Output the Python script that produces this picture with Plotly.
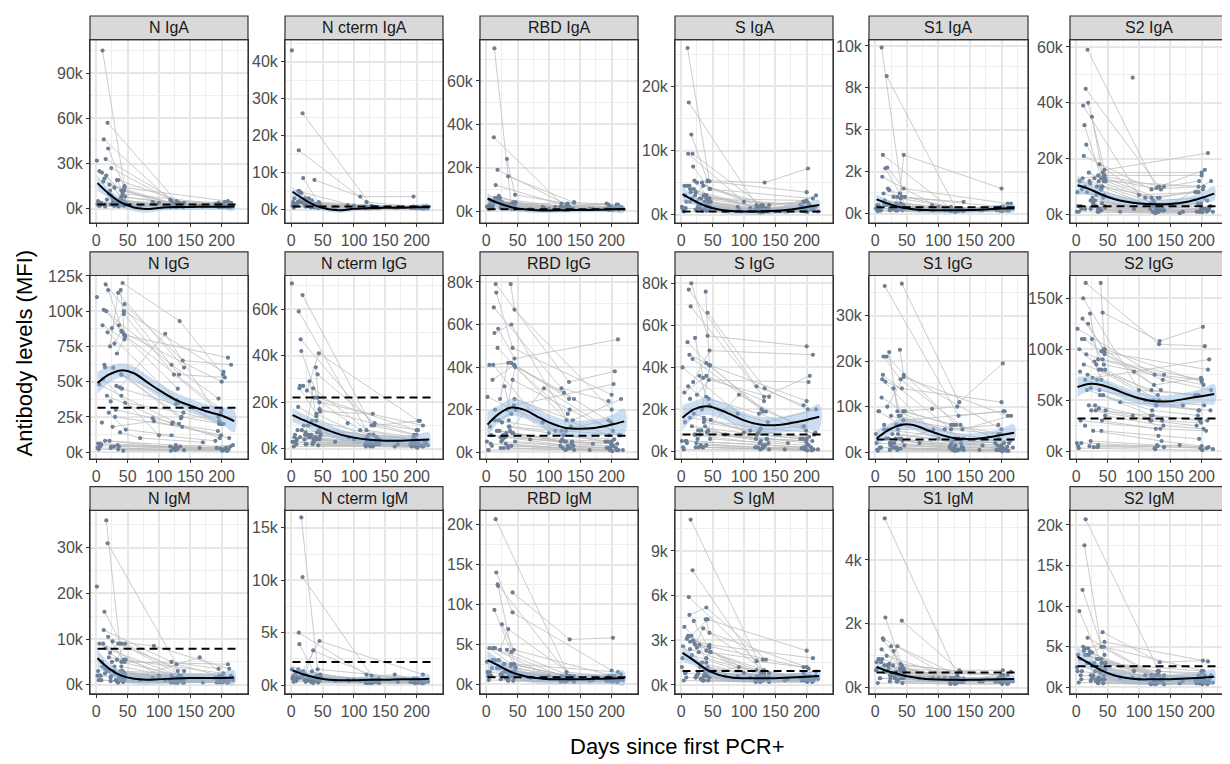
import plotly.graph_objects as go

PANELS = ["N IgA", "N cterm IgA", "RBD IgA", "S IgA", "S1 IgA", "S2 IgA",
          "N IgG", "N cterm IgG", "RBD IgG", "S IgG", "S1 IgG", "S2 IgG",
          "N IgM", "N cterm IgM", "RBD IgM", "S IgM", "S1 IgM", "S2 IgM"]

# visit days per subject (shared across antigens)
SUBJECT_DAYS = [[2,125,200],[5,40,132],[8,130,198],[10,45],[12,120,195],[13,40,135],[15,132,205],[16,42,200],[18,128,196],[19,45,210],
 [21,125],[22,35,140],[24,118,192],[25,44,203],[27,136,200],[29,40],[31,122,197],[33,46,130],[35,140,208],[37,110,195],
 [39,45,200],[41,127],[42,133,202],[44,124,199],[45,138,215],[11,100,190],[20,47,120],[26,92,212],[34,165,218],[38,70,170],
 [1],[3],[6],[9],[14],[23],[28],[32],[36],[90],
 [4,126,201],[7,134,207],[17,121,194],[23,129,211],[30,137,199],[36,123,204],[40,131,196],[43,119,209],[46,139,203],[14,127,214]]

# antibody levels (MFI, thousands) per subject and visit
N_IGA = [[3,1.5,2],[25,12,3],[4,2,1.5],[105,15],[46,5,4],[20,8,3],[33,4,4.5],[22,10,3],[57,5,3],[40,14,5],
 [16,3],[12,19,4],[27,6,2],[8,5,2.5],[5,2,1.5],[14,6],[3,1.5,1],[19,8,3],[2,1.5,1],[6,2,3],
 [4,3,2],[2.5,1.5],[3,2,1.5],[12,3,2.5],[2,1,4],[18,4,3],[10,4,2],[7,3,2],[4,2,1.5],[3,2,1.5],
 [32],[5],[2],[24],[3],[9],[2],[4],[1.5],[4.5],
 [2,1,1],[4,1.5,2],[6,2,1.5],[3,1,1],[2,1.5,2.5],[5,2,1.5],[3,2,1],[2,1,1.5],[4,3,2],[1.5,1,1]]
N_CTERM_IGA = [[1,0.5,0.5],[3,1.5,0.5],[1.5,0.5,0.4],[2,1],[16,2,0.8],[5,1.5,0.5],[2,0.6,0.5],[4.5,1.2,0.6],[26,1,0.6],[8.5,1.5,0.7],
 [1.5,0.5],[3,1.2,0.5],[2,0.6,0.4],[1.2,2,0.5],[1,0.5,0.5],[0.8,0.6],[1.5,0.5,0.4],[2.5,1,0.5],[0.8,0.4,0.4],[8,3.5,3.5],
 [1.2,0.8,0.5],[1,0.5],[1.5,0.5,0.6],[0.8,0.4,0.4],[0.6,0.4,0.8],[5,1,0.5],[2,1,0.5],[1,0.5,0.4],[0.8,0.5,0.4],[1.5,0.6,0.5],
 [43],[2],[1],[1.5],[4.5],[1],[3],[0.6],[0.8],[1.2],
 [0.5,0.3,0.3],[1,0.5,0.4],[2,0.6,0.5],[0.8,0.4,0.3],[1.2,0.5,0.6],[0.6,0.4,0.4],[1.5,0.8,0.5],[0.4,0.3,0.3],[0.9,0.6,0.5],[2.5,0.5,0.4]]
RBD_IGA = [[2,1,1],[3,1.5,1],[4,1,1],[1.5,1],[34,3.5,3],[75,2,1],[12,2,1.5],[6,3,1],[19,3,2],[5,2,3],
 [4,1.5],[6,3,4],[3,2,3.5],[4,2,1.5],[2,1,1],[3,2],[2,1,1],[24,7.5,3.5],[16,4,3],[3,2,1.5],
 [3,2.5,2],[2,1.5],[2,1,1],[4,1.5,1],[1.5,1,2],[3,1,1],[7,4,2],[2,1.5,1],[1.5,1,1],[2,1,1],
 [2],[1.5],[5],[3],[6],[4],[2],[3],[1.5],[2],
 [1,0.5,0.5],[2,1,1],[5,1.5,1],[1.5,0.8,0.6],[3,1,1.2],[2.5,1.2,0.8],[1,0.6,0.5],[4,1,1],[1.5,1,0.8],[6,2,1.5]]
S_IGA = [[1,0.5,0.6],[4.5,2.5,1],[2,0.7,1],[26,5.2],[17.5,1.5,2],[4.5,3,1],[3.5,1,1.5],[12.5,5.2,3.5],[9.5,1.5,2],[7.5,4,2.5],
 [5.3,1.2],[3,4.5,1.5],[2,0.8,0.6],[5,2.5,1.5],[1.5,0.6,0.8],[2.5,1.5],[1,0.5,0.7],[5,4,1.5],[0.8,0.5,1],[2,1,2],
 [3,2.5,2.2],[1.5,0.8],[5.3,5,7.2],[1.2,0.6,1],[0.8,0.5,3],[9.5,2,1.5],[4,2,1],[1,0.8,0.6],[0.6,0.5,0.5],[1,0.6,0.5],
 [1.2],[0.8],[3],[4.5],[2],[3.5],[1],[2.5],[0.8],[1.2],
 [0.5,0.3,0.4],[1,0.6,0.8],[2.5,0.8,1.2],[0.8,0.5,0.6],[1.5,0.7,2],[3,1,1.5],[0.6,0.4,0.5],[2,0.8,1],[1.2,0.9,1.8],[4,1,1.2]]
S1_IGA = [[0.3,0.2,0.2],[0.5,0.3,0.2],[0.2,0.15,0.2],[9.9,0.5],[3.5,0.3,0.3],[1.2,0.9,0.3],[0.8,0.2,0.3],[2.7,1.0,0.4],[8.2,0.3,0.2],[2.75,1.5,0.6],
 [0.6,0.2],[1.4,1.0,0.7],[0.5,0.2,0.2],[0.4,0.3,0.3],[0.3,0.2,0.2],[1.0,0.6],[0.3,0.2,0.2],[0.6,0.4,0.3],[0.2,0.15,0.2],[0.4,0.2,0.3],
 [1.2,3.5,1.5],[0.3,0.2],[0.4,0.2,0.3],[0.4,0.2,0.3],[0.3,0.2,0.6],[2.2,0.4,0.3],[1.5,1.0,0.4],[0.3,0.2,0.2],[0.2,0.2,0.3],[0.3,0.2,0.2],
 [0.3],[0.5],[0.4],[0.2],[0.6],[0.3],[0.4],[0.2],[0.3],[0.5],
 [0.15,0.1,0.15],[0.3,0.2,0.2],[0.5,0.25,0.3],[0.2,0.15,0.2],[0.4,0.2,0.3],[0.25,0.2,0.25],[0.6,0.3,0.35],[0.2,0.15,0.2],[0.35,0.25,0.4],[0.7,0.3,0.3]]
S2_IGA = [[8,3,2],[12,10,2],[2,1,1.5],[13,14],[21,9,10],[32,13,9],[45,10,16],[25,15,15],[59,9.5,12],[40,16,22],
 [12,4],[11,14,10],[5,2,1],[35,12,10],[4,1.5,2],[13,9],[3,1,1],[10,13,6],[2,1.5,1],[18,6,8],
 [9,14,14],[4,2],[10,6,9],[7,3,4],[3,2,12],[39,7,8],[15,12,6],[6,2,2],[1,0.5,1],[2,1,1],
 [1],[3],[12],[9],[2],[5],[3],[7],[1],[49],
 [1,0.5,0.8],[3,1.5,2],[8,3,4],[2,1,1.5],[5,2,3],[12,5,6],[1.5,1,1],[6,4,5],[2.5,1.5,2],[10,3,3]]
N_IGG = [[3,2,2],[48,40,20],[5,3,2.5],[90,80],[101,62,38],[62,55,24],[119,55,53],[100,85,50],[85,37,20],[115,83,67],
 [8,3],[75,113,60],[4,4,3],[88,100,57],[60,25,20],[77,86],[30,21,10],[70,82,45],[2,1.5,1],[46,84,25],
 [115,83,30],[45,34],[120,93,55],[98,55,28],[105,65,62],[52,12,8],[28,16,12],[18,22,10],[5,3,5],[14,10,7],
 [110],[6],[4],[21],[60],[36],[4],[47],[90],[24],
 [2,1.5,1],[6,4,3],[40,20,15],[3,2,2],[25,18,12],[4,3,2],[55,35,22],[1,1,1],[35,28,20],[8,5,4]]
N_CTERM_IGG = [[3,1.5,1],[5,4,2],[2,1,1],[8,5],[59,8,5],[26,15,3],[47,10,12],[42,22,8],[66,10,6],[27,20,10],
 [4,2],[6,26,4],[2,2,1],[25,41,12],[10,5,3],[29,14],[5,3,2],[12,16,15],[3,2,1.5],[22,8,4],
 [35,17,6],[7,3],[32,11,8],[8,6,4],[4,3,3],[18,4,2],[10,6,3],[6,5,3],[2,1,1.5],[5,3,2],
 [71],[3],[6],[4],[27],[7],[5],[6],[3],[11],
 [1,1,0.5],[3,2,1.5],[8,5,3],[2,1.5,1],[6,3,2],[4,2,1.5],[12,6,4],[1.5,1,1],[7,4,3],[5,3,2]]
RBD_IGG = [[26,8,5],[41,42,25],[8,3,2],[34,41],[68,30,24],[56,60,12],[79,33,38],[75,49,27],[49,15,8],[58,44,53],
 [10,5],[25,42,25],[5,3,2],[14,22,32],[8,4,3],[31,18],[4,2,1],[20,40,18],[2,1,1],[12,10,15],
 [79,67,20],[9,5],[34,20,10],[41,28,14],[25,15,25],[41,9,5],[15,20,10],[6,30,8],[3,1,1],[10,6,4],
 [5],[1],[12],[3],[20],[7],[2],[9],[15],[14],
 [1,1,0.5],[4,2,2],[10,6,5],[2,1.5,1],[7,5,4],[12,8,6],[3,2,2],[9,5,4],[5,3,3],[15,10,8]]
S_IGG = [[40,10,6],[28,36,24],[5,3,2],[52,41],[77,31,22],[46,42,19],[69,26,36],[80,55,50],[44,20,12],[33,48,46],
 [8,4],[54,35,26],[4,2,1.5],[27,34,33],[10,6,4],[36,26],[3,2,1],[20,41,19],[2,1,0.5],[15,10,12],
 [76,41,24],[9,5],[66,30,20],[25,18,10],[22,14,20],[31,9,6],[18,15,8],[6,27,8],[2,1,1],[12,8,4],
 [5],[2],[14],[4],[25],[8],[2],[10],[16],[18],
 [1,1,0.5],[5,3,2],[12,8,6],[2,1.5,1],[8,6,5],[14,9,7],[3,2,2],[10,6,5],[6,4,3],[16,11,9]]
S1_IGG = [[2,1,1],[9,6,3],[1,0.5,0.5],[12,9],[17,5,4],[21,16,6],[36.5,8,9],[15.5,14,11],[21,6,3],[10,16.5,8],
 [3,1],[22,9,3],[1.5,1,0.5],[8,7,9],[4,2,1.5],[14,8],[1,0.5,0.5],[6,9,10],[0.5,0.5,0.3],[8,5,6],
 [22.5,17,5],[3,1.5],[37,11,19.5],[9,6,4],[7,5,8],[16,3,2],[5,9,6],[2,5,2],[1,0.5,1],[3,2,1.5],
 [4],[0.5],[9],[1],[6],[2],[1],[3],[5],[9.5],
 [0.3,0.3,0.2],[1,0.6,0.5],[3,2,1.5],[0.5,0.4,0.3],[2,1.2,1],[4,2.5,2],[0.8,0.5,0.5],[2.5,1.5,1.2],[1.5,1,0.8],[5,3,2.5]]
S2_IGG = [[120,75,70],[100,80,50],[8,5,3],[130,100],[85,60,55],[110,98,60],[165,105,103],[95,90,70],[75,45,40],[125,97,80],
 [5,3],[135,90,75],[40,30,25],[110,85,65],[20,10,5],[88,70],[40,35,30],[70,80,55],[6,4,3],[60,50,40],
 [165,100,68],[30,22],[136,108,122],[100,65,72],[95,70,60],[150,60,55],[45,40,30],[72,78,90],[4,6,2],[55,48,45],
 [8],[5],[78],[110],[25],[62],[4],[85],[42],[35],
 [3,2,1],[30,22,20],[60,40,35],[10,6,4],[45,30,28],[80,50,45],[20,15,12],[55,35,30],[35,25,22],[70,45,40]]
N_IGM = [[2,1,1],[9,5,2],[1,0.5,1],[4,1.5],[12,5,3.5],[16,9,2],[8,2,1.5],[36,3,2],[31,4.5,2],[10.5,5,4.5],
 [3,1],[7,9,3],[2,1,0.5],[5,5.5,2.5],[3,1.5,1],[4,2],[1,0.5,0.5],[5.5,9,3],[0.5,0.5,0.5],[2,1,1.5],
 [3,2.5,2],[1,0.5],[1.5,1,1],[2.5,1.5,1],[1,0.5,2],[9,2,1.5],[6,5.5,2],[9.5,8.5,3.5],[0.5,6,1],[1.5,1,0.5],
 [21.5],[3],[2],[5],[2.5],[1.5],[3],[1],[2],[1.5],
 [1,0.5,0.5],[2,1,1],[3,1.5,1],[0.8,0.5,0.6],[2.5,1.2,1.5],[1.5,1,0.8],[4,1.5,1.2],[0.6,0.5,0.5],[2,1.2,1],[3.5,1.5,1.2]]
N_CTERM_IGM = [[0.6,0.3,0.3],[1,0.6,0.4],[0.4,0.3,0.3],[0.8,0.5],[5,1,0.6],[3.9,0.8,0.5],[1.2,0.4,0.5],[16,1.5,0.6],[10.3,0.9,0.5],[1.3,4.2,1],
 [0.5,0.3],[1,3.3,0.6],[0.4,0.3,0.3],[0.9,0.8,0.5],[0.5,0.3,0.3],[0.7,0.5],[0.3,0.2,0.2],[1.3,1,0.5],[0.2,0.2,0.2],[0.6,0.4,0.4],
 [0.8,0.6,0.5],[0.4,0.3],[0.5,0.3,0.3],[0.6,0.4,0.3],[0.4,0.3,0.5],[1.5,0.5,0.3],[1,0.8,0.4],[0.5,0.4,0.3],[0.3,1,0.3],[0.6,0.4,0.3],
 [1.5],[0.8],[1],[0.6],[1.2],[0.5],[0.7],[0.4],[0.6],[0.5],
 [0.3,0.2,0.2],[0.5,0.3,0.3],[0.8,0.4,0.4],[0.3,0.2,0.2],[0.6,0.4,0.4],[0.4,0.3,0.3],[0.9,0.5,0.4],[0.25,0.2,0.2],[0.5,0.4,0.3],[0.7,0.4,0.3]]
RBD_IGM = [[1.5,0.5,0.5],[4.5,2.5,1],[1,0.5,0.5],[3,1.5],[4.5,1,0.8],[9.3,4,1],[20.7,1,1],[14,9,1.7],[12.5,1.5,1],[12.3,2.5,1.5],
 [2,0.6],[4.3,6.9,1],[1,0.5,0.4],[7.5,4.3,1],[1.5,0.6,0.5],[2.5,1.5],[0.8,0.4,0.4],[4.3,2,1],[0.4,0.3,0.3],[1.5,0.8,1],
 [2.2,1.5,1],[1,0.5],[11.5,5.6,5.8],[1.5,0.8,0.6],[0.8,0.5,1.2],[4.5,1,0.6],[3,2,0.8],[1,0.8,0.5],[0.5,0.4,0.5],[1.5,0.8,0.5],
 [2.8],[1],[1.5],[2],[4.5],[1.2],[2.5],[1.5],[1],[0.8],
 [0.5,0.3,0.3],[1,0.6,0.5],[2,0.8,0.6],[0.6,0.4,0.4],[1.5,0.7,0.6],[0.8,0.5,0.5],[2.5,1,0.8],[0.4,0.3,0.3],[1.2,0.7,0.6],[3,1,0.7]]
S_IGM = [[1.8,0.5,0.4],[3.9,2.3,1],[0.5,0.3,0.3],[3.2,2.5],[5.9,1.6,1.2],[4.7,5.2,1.7],[11.1,0.8,0.6],[3.3,4.4,2.3],[7.7,0.9,0.6],[3,2.7,1.8],
 [2.8,0.6],[2.7,3.8,0.8],[0.6,0.3,0.3],[2.5,2.6,1.1],[0.8,0.4,0.4],[2.7,1.5],[0.4,0.3,0.3],[1.5,2.2,1.7],[0.3,0.2,0.3],[1,0.5,0.8],
 [4.4,3.5,1.2],[0.6,0.4],[1.2,0.6,0.5],[0.9,0.5,0.4],[0.5,0.4,0.9],[3.3,0.8,0.5],[4.3,2.2,1],[0.7,1.2,0.4],[0.3,0.3,0.4],[0.8,0.6,0.4],
 [1.2],[2.6],[0.8],[3.1],[2.9],[0.5],[2.2],[0.4],[0.3],[0.6],
 [0.3,0.2,0.2],[0.8,0.4,0.4],[2,0.6,0.5],[0.5,0.3,0.3],[1.2,0.5,0.6],[0.6,0.4,0.4],[1.8,0.7,0.6],[0.3,0.2,0.2],[0.9,0.5,0.5],[2.4,0.8,0.6]]
S1_IGM = [[0.8,0.3,0.3],[0.9,0.5,0.3],[0.3,0.2,0.2],[1.2,0.6],[1.55,0.3,0.3],[1.5,0.75,0.5],[5.3,0.3,0.3],[2.2,0.7,0.4],[1,0.3,0.2],[0.7,0.5,0.4],
 [0.6,0.2],[0.75,1.3,0.3],[0.3,0.2,0.2],[1.3,0.6,0.4],[0.4,0.2,0.2],[1.15,0.5],[0.3,0.2,0.2],[0.5,0.4,0.4],[0.2,0.2,0.2],[0.4,0.3,0.3],
 [0.6,0.5,0.4],[0.3,0.2],[2.1,0.55,0.55],[0.4,0.3,0.3],[0.3,0.2,0.5],[0.9,0.3,0.2],[0.7,0.5,0.3],[0.4,0.3,0.2],[0.2,0.2,0.2],[0.4,0.3,0.2],
 [0.55],[0.6],[0.9],[0.8],[0.5],[0.4],[0.7],[0.3],[0.4],[0.3],
 [0.15,0.12,0.12],[0.3,0.2,0.2],[0.5,0.25,0.25],[0.2,0.15,0.15],[0.4,0.2,0.25],[0.25,0.2,0.2],[0.6,0.3,0.3],[0.15,0.12,0.12],[0.35,0.25,0.25],[0.7,0.3,0.25]]
S2_IGM = [[2,1,1],[9.4,3,1.5],[1,0.8,0.7],[12,4],[4.5,1.5,1],[17.5,5,1],[20.7,2,1.5],[4,3,2],[6.1,1.5,1],[4.8,5.6,3.2],
 [3,1],[4.4,3.5,1.5],[1,0.5,0.5],[4.3,5,2],[1.5,0.8,0.7],[3,2],[0.8,0.5,0.5],[3.5,3,2],[0.5,0.4,0.5],[2,1.5,1.5],
 [2.5,2.2,1.8],[1,0.6],[6.8,3.1,3.3],[1.5,1,0.8],[1,0.6,1.5],[5,1,0.8],[4,3,1.5],[1.2,2,0.8],[0.6,0.5,0.6],[1.8,1.2,0.8],
 [2.5],[4],[3.5],[2],[4.8],[1.5],[3],[1],[0.8],[1.2],
 [0.6,0.4,0.4],[1.5,0.8,0.8],[3,1.2,1],[0.8,0.5,0.5],[2,1,1.2],[1.2,0.7,0.7],[3.5,1.5,1.2],[0.5,0.4,0.4],[2.2,1.2,1],[4,1.5,1.2]]

# smoothed fit (thousands) and its confidence half-width at these days
FIT_DAYS = [2, 20, 40, 60, 80, 100, 125, 150, 175, 200, 220]
FIT = [
 [17, 10, 4, 0.8, -0.2, 0.5, 1.1, 1.2, 1.3, 1.3, 1.5],
 [4.8, 2.8, 1.0, 0.1, -0.2, 0.2, 0.4, 0.5, 0.5, 0.6, 0.6],
 [5.8, 3.6, 1.8, 0.8, 0.4, 0.3, 0.4, 0.5, 0.6, 0.8, 0.9],
 [3.2, 2.2, 1.3, 0.8, 0.55, 0.5, 0.5, 0.6, 0.8, 1.2, 1.5],
 [0.85, 0.6, 0.38, 0.27, 0.22, 0.2, 0.2, 0.22, 0.25, 0.3, 0.32],
 [10.5, 9.2, 7.2, 5.6, 4.6, 4.0, 3.7, 3.8, 4.5, 6.0, 7.5],
 [49, 55, 58, 56, 50, 44, 37.5, 33, 29, 26, 22],
 [14.5, 12.3, 10, 7.8, 6, 4.8, 3.9, 3.5, 3.5, 3.8, 4.0],
 [13, 18, 21, 20, 17, 14, 11.5, 11, 11.5, 13, 14.5],
 [16, 20, 21.5, 20, 17.5, 14.8, 12.8, 12.5, 13.5, 15, 16.5],
 [3, 4.8, 6, 6, 5, 4, 3.1, 2.9, 3.2, 3.8, 4.3],
 [63, 66, 65, 61, 56, 52, 49, 49, 51.5, 54, 56],
 [5.8, 3.6, 2.0, 1.3, 1.1, 1.2, 1.4, 1.5, 1.5, 1.5, 1.6],
 [1.4, 1.0, 0.7, 0.5, 0.45, 0.45, 0.5, 0.5, 0.55, 0.55, 0.6],
 [3, 2.3, 1.5, 1, 0.75, 0.6, 0.6, 0.6, 0.65, 0.7, 0.75],
 [2.15, 1.65, 1.05, 0.68, 0.5, 0.45, 0.45, 0.45, 0.5, 0.55, 0.6],
 [0.65, 0.52, 0.41, 0.33, 0.28, 0.26, 0.25, 0.25, 0.26, 0.27, 0.28],
 [3.8, 3.0, 2.1, 1.5, 1.15, 1.0, 1.0, 1.0, 1.1, 1.2, 1.3],
]
FIT_SE = [
 [5, 3, 3, 2.5, 2.5, 2, 2, 2, 2, 2, 2.5],
 [1.2, 0.8, 0.8, 0.7, 0.7, 0.6, 0.6, 0.6, 0.6, 0.7, 0.9],
 [2.5, 1.5, 1.5, 1.3, 1.3, 1.2, 1.2, 1.2, 1.2, 1.3, 1.6],
 [1.2, 0.7, 0.6, 0.5, 0.5, 0.5, 0.5, 0.5, 0.5, 0.6, 0.8],
 [0.3, 0.2, 0.2, 0.18, 0.18, 0.17, 0.17, 0.17, 0.17, 0.18, 0.22],
 [3.5, 2, 1.8, 1.7, 1.7, 1.6, 1.6, 1.6, 1.7, 1.8, 2.5],
 [8, 6, 5, 5, 5, 5, 5, 5, 5, 6, 8],
 [3, 2.5, 2.3, 2.3, 2.3, 2.2, 2.2, 2.2, 2.2, 2.4, 3],
 [6, 4, 4, 4, 4, 3.8, 3.8, 3.8, 4, 4.5, 6],
 [6, 4, 4, 4, 4, 3.8, 3.8, 3.8, 4, 4.5, 6],
 [1.8, 1.3, 1.2, 1.2, 1.2, 1.2, 1.2, 1.2, 1.2, 1.4, 1.8],
 [10, 7, 6, 6, 6, 6, 6, 6, 6, 7, 10],
 [2, 1.3, 1.2, 1.1, 1.1, 1.1, 1.1, 1.1, 1.1, 1.2, 1.6],
 [0.5, 0.35, 0.3, 0.28, 0.28, 0.28, 0.28, 0.28, 0.28, 0.3, 0.4],
 [1.2, 0.8, 0.7, 0.65, 0.65, 0.6, 0.6, 0.6, 0.6, 0.7, 0.9],
 [0.55, 0.35, 0.3, 0.28, 0.28, 0.27, 0.27, 0.27, 0.28, 0.3, 0.4],
 [0.15, 0.1, 0.09, 0.08, 0.08, 0.08, 0.08, 0.08, 0.08, 0.09, 0.11],
 [1.2, 0.8, 0.7, 0.65, 0.65, 0.6, 0.6, 0.6, 0.6, 0.7, 0.9],
]

# seropositivity thresholds (thousands)
THRESHOLDS = [2.8, 0.8, 0.8, 0.5, 0.38, 3.0,
              31.5, 22, 7.7, 8.1, 2.8, 32,
              7.9, 2.2, 0.85, 0.93, 0.48, 2.6]
THRESHOLD_DAYS = [2, 226]

X_TICKS = [0, 50, 100, 150, 200]
Y_TICKS = [[0,30,60,90],[0,10,20,30,40],[0,20,40,60],[0,10,20],[0,2.5,5,7.5,10],[0,20,40,60],
           [0,25,50,75,100,125],[0,20,40,60],[0,20,40,60,80],[0,20,40,60,80],[0,10,20,30],[0,50,100,150],
           [0,10,20,30],[0,5,10,15],[0,5,10,15,20],[0,3,6,9],[0,2,4],[0,5,10,15,20]]
Y_TICK_LABELS = [["0k","30k","60k","90k"],["0k","10k","20k","30k","40k"],["0k","20k","40k","60k"],["0k","10k","20k"],
                 ["0k","2k","5k","8k","10k"],["0k","20k","40k","60k"],
                 ["0k","25k","50k","75k","100k","125k"],["0k","20k","40k","60k"],["0k","20k","40k","60k","80k"],
                 ["0k","20k","40k","60k","80k"],["0k","10k","20k","30k"],["0k","50k","100k","150k"],
                 ["0k","10k","20k","30k"],["0k","5k","10k","15k"],["0k","5k","10k","15k","20k"],["0k","3k","6k","9k"],
                 ["0k","2k","4k"],["0k","5k","10k","15k","20k"]]

VALUES = [N_IGA, N_CTERM_IGA, RBD_IGA, S_IGA, S1_IGA, S2_IGA,
          N_IGG, N_CTERM_IGG, RBD_IGG, S_IGG, S1_IGG, S2_IGG,
          N_IGM, N_CTERM_IGM, RBD_IGM, S_IGM, S1_IGM, S2_IGM]

# ---------------- layout (pixels, page coords; page body has an 8px margin) ----------------
OFF = 8
W, H = 1230 - OFF, 764 - OFF
COL_PX = [(90, 248), (285, 443), (480, 638), (675, 833), (869, 1028), (1070, 1228)]
ROW_PX = [(32, 218), (271, 457), (509, 695)]
STRIP_H = 24
Y_RANGES = [[-9.6, 112.2], [-3.7, 45.9], [-5.6, 79], [-1.34, 27.3], [-0.57, 10.37], [-3.1, 62.6],
            [-4.9, 125.3], [-4.4, 74.4], [-3.2, 83], [-3.6, 83.7], [-1.5, 38.8], [-7.7, 172.3],
            [-2, 38.2], [-0.85, 16.67], [-1.24, 21.8], [-0.6, 11.72], [-0.19, 5.55], [-0.8, 21.8]]
X_RANGE = [-10, 242]


def px_x(p):
    return (p - OFF) / W


def px_y(p):
    return 1 - (p - OFF) / H


FONT = "Liberation Sans, Arial, Helvetica, sans-serif"
POINT_COLOR = "#6B7F96"
LINE_COLOR = "#BEBEBE"
BAND_COLOR = "rgba(140,180,225,0.45)"
FRAME = "#333333"

fig = go.Figure()
layout = dict(width=W, height=H, margin=dict(l=0, r=0, t=0, b=0),
              paper_bgcolor="white", plot_bgcolor="white", showlegend=False,
              font=dict(family=FONT))
shapes, annotations = [], []

for i, name in enumerate(PANELS):
    r, c = divmod(i, 6)
    k = i + 1
    xa = "x" if k == 1 else f"x{k}"
    ya = "y" if k == 1 else f"y{k}"
    vals = VALUES[i]
    assert len(vals) == len(SUBJECT_DAYS), name
    lx, ly, px, py = [], [], [], []
    for days, v in zip(SUBJECT_DAYS, vals):
        assert len(days) == len(v), (name, days, v)
        if len(days) > 1:
            lx += list(days) + [None]
            ly += list(v) + [None]
        px += list(days)
        py += list(v)
    fig.add_trace(go.Scatter(x=lx, y=ly, mode="lines", xaxis=xa, yaxis=ya,
                             line=dict(color=LINE_COLOR, width=0.8), hoverinfo="skip"))
    fig.add_trace(go.Scatter(x=px, y=py, mode="markers", xaxis=xa, yaxis=ya,
                             marker=dict(color=POINT_COLOR, size=4.2, line=dict(width=0))))
    up = [f + s for f, s in zip(FIT[i], FIT_SE[i])]
    lo = [f - s for f, s in zip(FIT[i], FIT_SE[i])]
    fig.add_trace(go.Scatter(x=FIT_DAYS + FIT_DAYS[::-1], y=up + lo[::-1], mode="lines",
                             fill="toself", fillcolor=BAND_COLOR, xaxis=xa, yaxis=ya,
                             line=dict(width=0, shape="spline"), hoverinfo="skip"))
    fig.add_trace(go.Scatter(x=FIT_DAYS, y=FIT[i], mode="lines", xaxis=xa, yaxis=ya,
                             line=dict(color="black", width=2, shape="spline")))
    fig.add_trace(go.Scatter(x=THRESHOLD_DAYS, y=[THRESHOLDS[i]] * 2, mode="lines",
                             xaxis=xa, yaxis=ya,
                             line=dict(color="black", width=2, dash="8px,5px")))

    x0, x1 = COL_PX[c]
    y0, y1 = ROW_PX[r]
    yt = Y_TICKS[i]
    step = yt[1] - yt[0]
    ymin = [t + step / 2 for t in [yt[0] - step] + yt]
    common = dict(showline=True, mirror=True, linecolor=FRAME, linewidth=1,
                  ticks="outside", ticklen=3, tickwidth=1, tickcolor=FRAME,
                  showgrid=True, gridcolor="#E6E6E6", gridwidth=1.6, zeroline=False,
                  tickfont=dict(family=FONT, size=16, color="#4D4D4D"))
    layout["xaxis" if k == 1 else f"xaxis{k}"] = dict(
        domain=[px_x(x0), px_x(x1)], anchor=ya, range=X_RANGE,
        tickvals=X_TICKS, ticktext=[str(t) for t in X_TICKS],
        minor=dict(tickvals=[25, 75, 125, 175, 225], showgrid=True, gridcolor="#EEEEEE", gridwidth=1.1),
        **common)
    layout["yaxis" if k == 1 else f"yaxis{k}"] = dict(
        domain=[px_y(y1), px_y(y0)], anchor=xa, range=Y_RANGES[i],
        tickvals=yt, ticktext=Y_TICK_LABELS[i],
        minor=dict(tickvals=ymin, showgrid=True, gridcolor="#EEEEEE", gridwidth=1.1),
        **common)
    # panel frame
    shapes.append(dict(type="rect", xref="paper", yref="paper",
                       x0=px_x(x0), x1=px_x(x1), y0=px_y(y1), y1=px_y(y0),
                       fillcolor="rgba(0,0,0,0)", line=dict(color=FRAME, width=1.2), layer="above"))
    # strip
    shapes.append(dict(type="rect", xref="paper", yref="paper",
                       x0=px_x(x0), x1=px_x(x1), y0=px_y(y0), y1=px_y(y0 - STRIP_H),
                       fillcolor="#D9D9D9", line=dict(color=FRAME, width=1.2), layer="above"))
    annotations.append(dict(text=name, xref="paper", yref="paper",
                            x=px_x((x0 + x1) / 2), y=px_y(y0 - STRIP_H / 2),
                            showarrow=False, xanchor="center", yanchor="middle",
                            font=dict(family=FONT, size=16, color="#1A1A1A")))

annotations.append(dict(text="Antibody levels (MFI)", xref="paper", yref="paper",
                        x=px_x(24), y=px_y(350), textangle=-90, showarrow=False,
                        xanchor="center", yanchor="middle",
                        font=dict(family=FONT, size=22, color="black")))
annotations.append(dict(text="Days since first PCR+", xref="paper", yref="paper",
                        x=px_x(677), y=px_y(748), showarrow=False,
                        xanchor="center", yanchor="middle",
                        font=dict(family=FONT, size=22, color="black")))
layout["shapes"] = shapes
layout["annotations"] = annotations
fig.update_layout(**layout)
fig.write_html("out.html")
